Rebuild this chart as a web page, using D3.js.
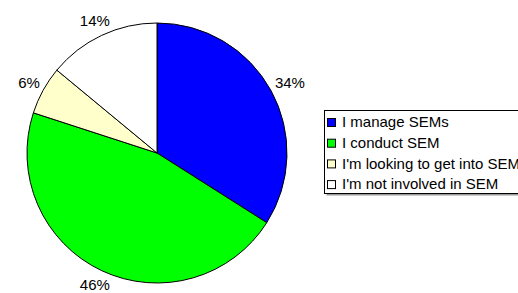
<!DOCTYPE html>
<meta charset="utf-8">
<style>
body { margin: 0; background: #fff; overflow: hidden; }
text { font-family: "Liberation Sans", Arial, sans-serif; font-size: 15px; fill: #000; }
</style>
<svg width="518" height="293"></svg>
<script src="https://d3js.org/d3.v7.min.js"></script>
<script>
var categories = ["I manage SEMs", "I conduct SEM", "I'm looking to get into SEM", "I'm not involved in SEM"];
var values = [34, 46, 6, 14];
var colors = ["#0000ff", "#00ff00", "#ffffcc", "#ffffff"];

var svg = d3.select("svg"),
    cx = 157, cy = 153, radius = 130;

var data = categories.map(function(c, i) { return {name: c, value: values[i], color: colors[i]}; });

var pie = d3.pie().sort(null).value(function(d) { return d.value; });
var arc = d3.arc().innerRadius(0).outerRadius(radius);
var labelArc = d3.arc().innerRadius(146).outerRadius(146);

var g = svg.append("g").attr("transform", "translate(" + cx + "," + cy + ")");

g.selectAll("path")
  .data(pie(data))
  .enter().append("path")
    .attr("d", arc)
    .attr("fill", function(d) { return d.data.color; })
    .attr("stroke", "#000")
    .attr("stroke-width", 1);

// percent labels, nudged outward on the right like the original
g.selectAll(".lbl")
  .data(pie(data))
  .enter().append("text")
    .attr("class", "lbl")
    .attr("transform", function(d) {
      var c = labelArc.centroid(d);
      if (c[0] > 0) c[0] += 5;
      return "translate(" + c + ")";
    })
    .attr("text-anchor", "middle")
    .attr("dy", "0.35em")
    .text(function(d) { return d.data.value + "%"; });

// legend
var lg = svg.append("g").attr("transform", "translate(324,110)");
lg.append("rect")
    .attr("x", 2.5).attr("y", 2.5)
    .attr("width", 220).attr("height", 83)
    .attr("fill", "#999").attr("stroke", "none");
lg.append("rect")
    .attr("x", 0.5).attr("y", 0.5)
    .attr("width", 220).attr("height", 83)
    .attr("fill", "#fff").attr("stroke", "#000");

var item = lg.selectAll(".item")
  .data(data)
  .enter().append("g")
    .attr("class", "item")
    .attr("transform", function(d, i) { return "translate(3," + (12 + i * 20.7) + ")"; });
item.append("rect")
    .attr("x", 0.5).attr("y", -3.5)
    .attr("width", 8).attr("height", 8)
    .attr("fill", function(d) { return d.color; })
    .attr("stroke", "#000");
item.append("text")
    .attr("x", 15)
    .attr("dy", "0.35em")
    .text(function(d) { return d.name; });
</script>
